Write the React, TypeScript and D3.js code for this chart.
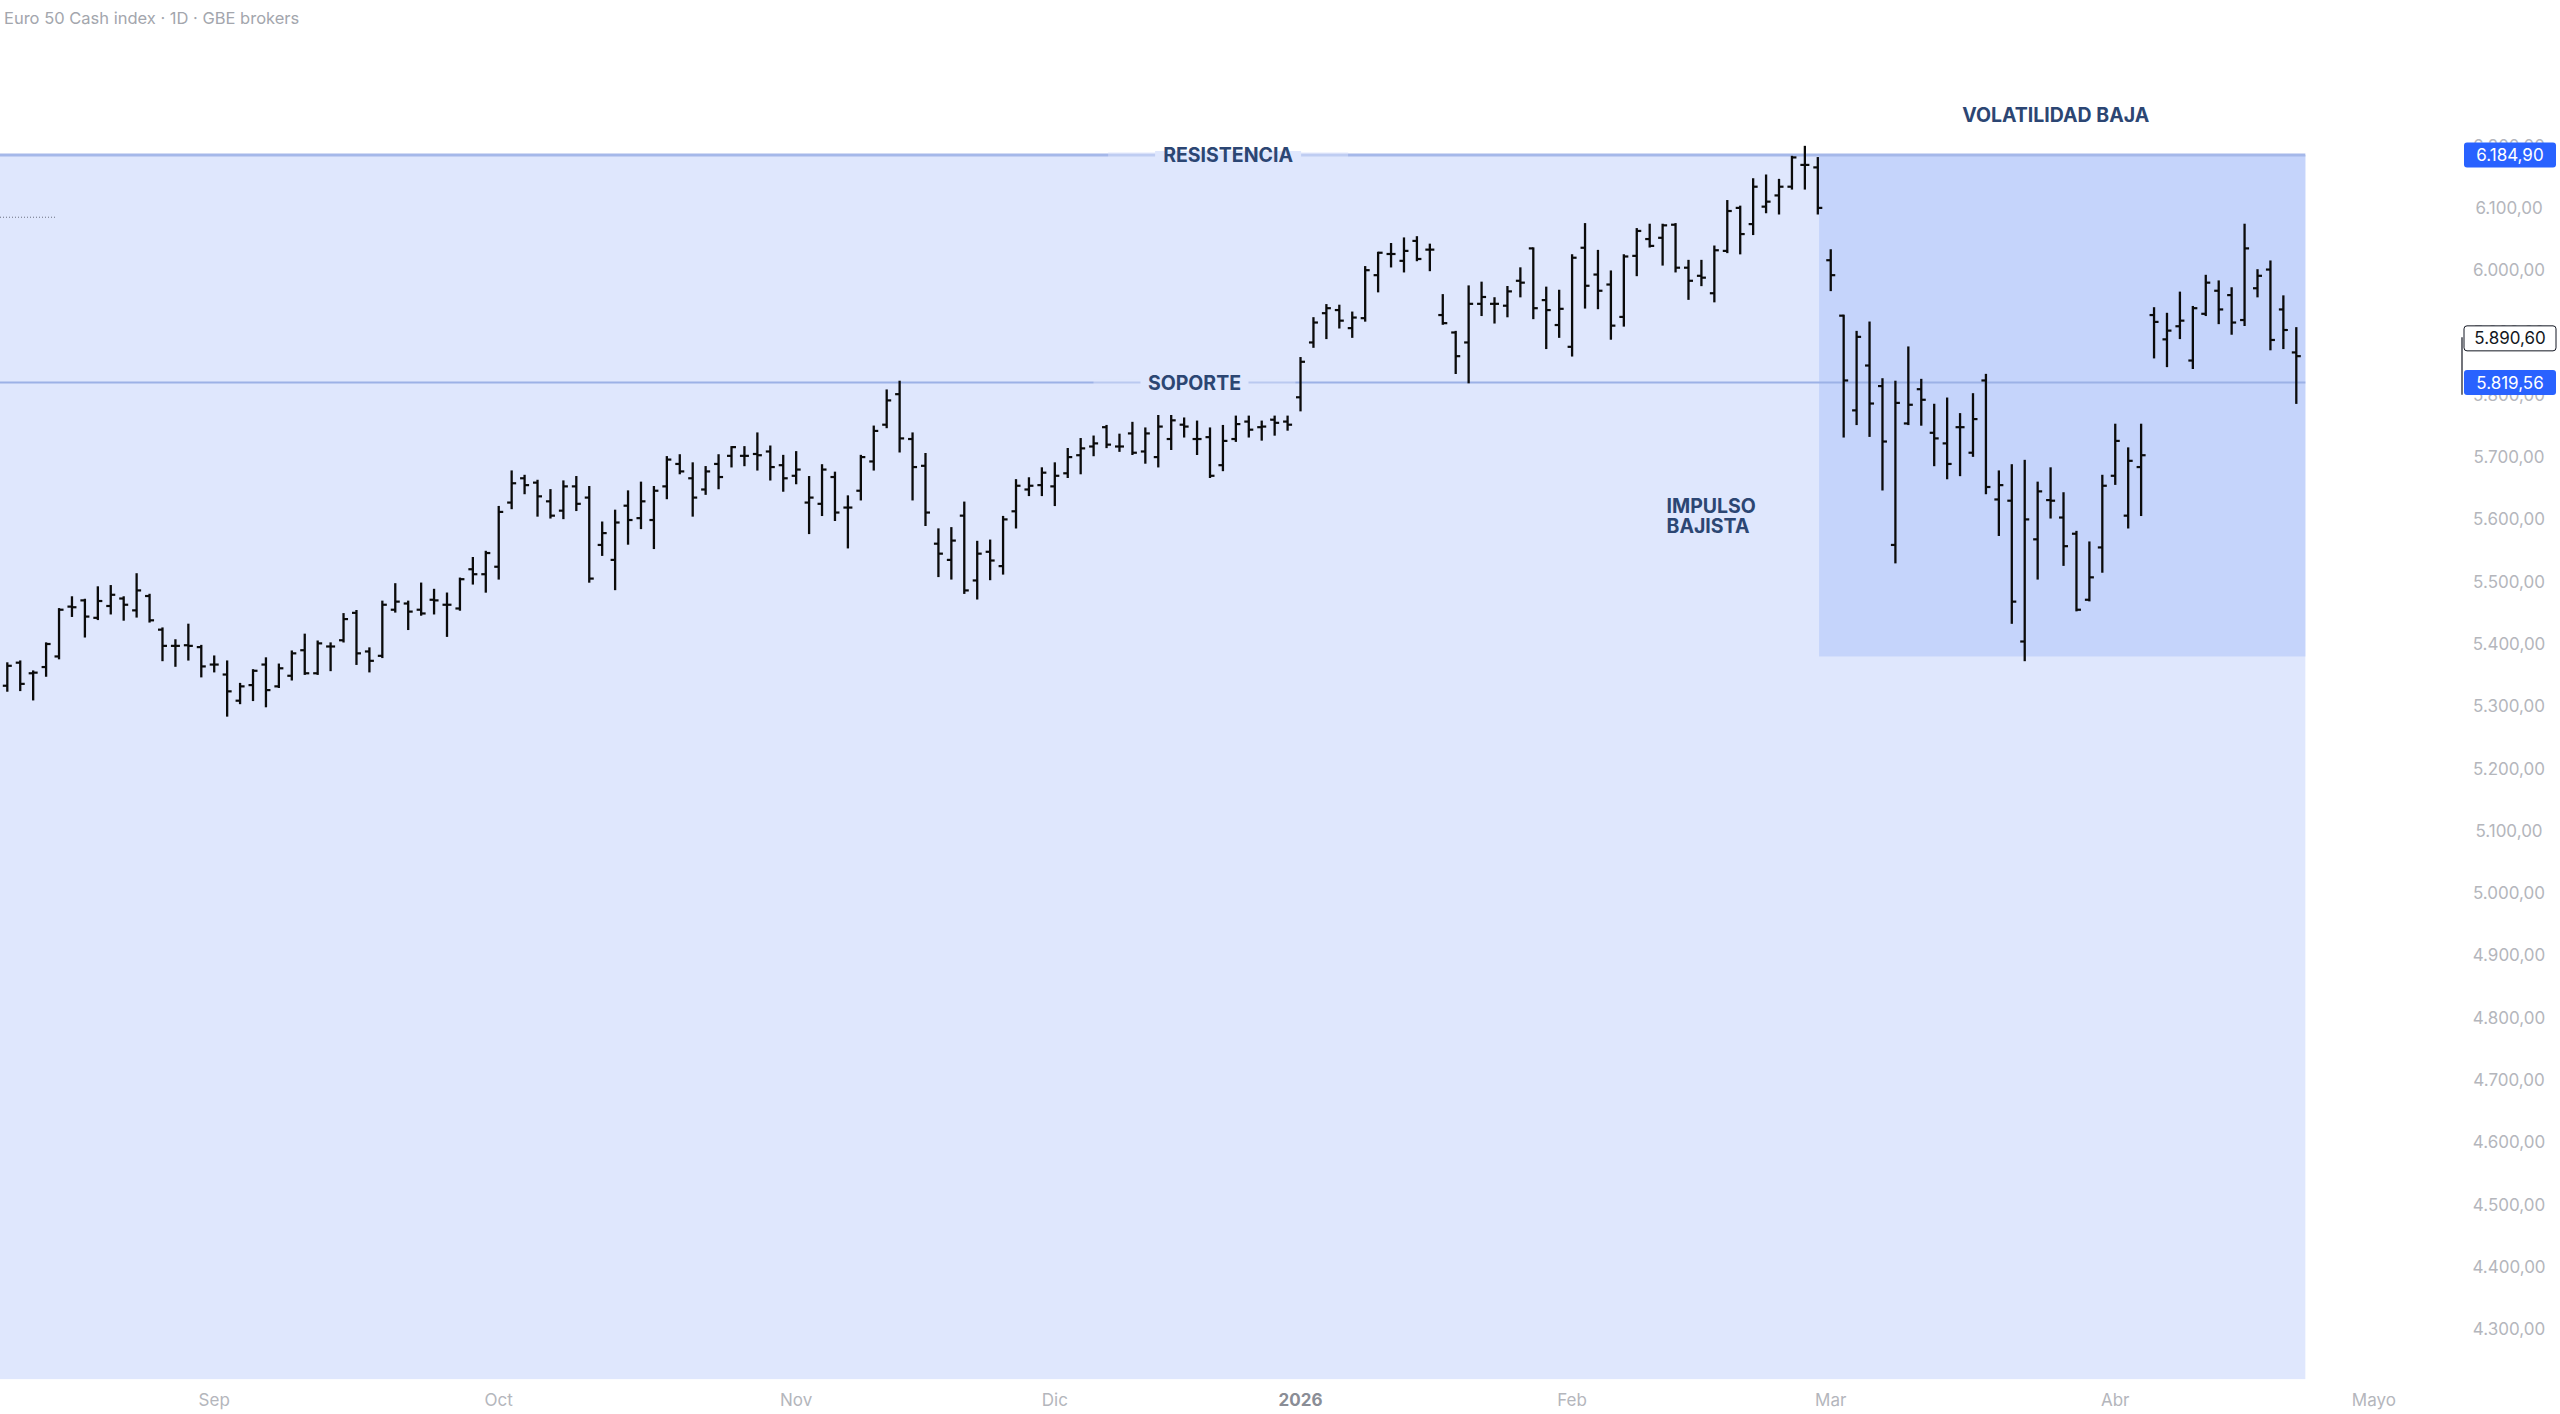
import * as d3 from "d3";

// OHLC bars, first one is index -16 (Sep 1 = 0)
const FIRST_INDEX = -16;

const opens = [
  5333, 5370, 5353, 5363, 5380, 5460, 5470, 5442, 5461, 5473, 5454, 5477, 5423, 5397, 5398, 5395, 5367, 5351, 5309, 5334,
  5367, 5332, 5349, 5390, 5353, 5396, 5406, 5450, 5388, 5381, 5455, 5465, 5455, 5471, 5463, 5457, 5520, 5512, 5524, 5627,
  5666, 5659, 5629, 5614, 5653, 5635, 5559, 5535, 5622, 5602, 5599, 5653, 5689, 5666, 5648, 5689, 5702, 5702, 5705, 5709,
  5687, 5670, 5627, 5625, 5668, 5619, 5646, 5693, 5752, 5801, 5729, 5686, 5561, 5535, 5606, 5502, 5548, 5525, 5613, 5648,
  5655, 5653, 5674, 5703, 5717, 5748, 5717, 5738, 5709, 5700, 5729, 5752, 5729, 5732, 5687, 5729, 5757, 5748, 5760, 5757,
  5796, 5884, 5931, 5936, 5907, 5923, 5992, 6026, 6015, 6047, 6033, 5928, 5900, 5884, 5946, 5946, 5943, 5983, 6035, 5952,
  5912, 5877, 6036, 5993, 5977, 5925, 6023, 6050, 6052, 6073, 6004, 5991, 5963, 6031, 6100, 6074, 6102, 6120, 6134, 6169,
  6165, 6016, 5927, 5775, 5847, 5814, 5559, 5754, 5809, 5739, 5722, 5748, 5707, 5823, 5632, 5630, 5404, 5568, 5631, 5603,
  5577, 5471, 5555, 5670, 5606, 5684, 5928, 5889, 5910, 5855, 5930, 5967, 5960, 5920, 5971, 6001, 5937, 5868,
];
const highs = [
  5369, 5372, 5356, 5401, 5456, 5475, 5471, 5491, 5493, 5475, 5512, 5479, 5425, 5406, 5431, 5397, 5380, 5372, 5336, 5358,
  5377, 5367, 5388, 5415, 5404, 5401, 5448, 5453, 5393, 5468, 5496, 5468, 5497, 5487, 5481, 5505, 5538, 5548, 5620, 5677,
  5670, 5662, 5647, 5661, 5668, 5652, 5595, 5614, 5645, 5659, 5652, 5700, 5703, 5690, 5684, 5703, 5716, 5716, 5738, 5717,
  5702, 5708, 5668, 5687, 5675, 5637, 5702, 5749, 5807, 5821, 5738, 5705, 5584, 5586, 5627, 5564, 5566, 5604, 5663, 5666,
  5682, 5690, 5713, 5729, 5733, 5750, 5736, 5755, 5746, 5766, 5766, 5762, 5757, 5746, 5750, 5765, 5765, 5757, 5765, 5765,
  5859, 5923, 5944, 5943, 5932, 6005, 6028, 6042, 6051, 6053, 6041, 5960, 5901, 5974, 5980, 5955, 5973, 6003, 6035, 5972,
  5967, 6024, 6074, 6031, 5998, 6024, 6066, 6073, 6073, 6074, 6015, 6015, 6038, 6111, 6102, 6146, 6152, 6145, 6182, 6198,
  6180, 6032, 5927, 5901, 5916, 5825, 5821, 5876, 5824, 5784, 5794, 5769, 5801, 5832, 5677, 5687, 5694, 5659, 5682, 5642,
  5580, 5563, 5670, 5752, 5714, 5752, 5939, 5930, 5964, 5941, 5991, 5982, 5971, 6073, 6000, 6014, 5958, 5907,
];
const lows = [
  5325, 5326, 5311, 5349, 5377, 5445, 5412, 5440, 5449, 5439, 5444, 5436, 5374, 5365, 5375, 5348, 5356, 5285, 5305, 5310,
  5300, 5331, 5343, 5352, 5352, 5358, 5404, 5368, 5356, 5379, 5452, 5424, 5447, 5449, 5413, 5455, 5497, 5484, 5505, 5618,
  5642, 5606, 5603, 5602, 5615, 5500, 5543, 5488, 5561, 5586, 5554, 5634, 5674, 5606, 5641, 5650, 5685, 5687, 5680, 5664,
  5646, 5658, 5578, 5607, 5599, 5555, 5632, 5680, 5748, 5709, 5632, 5591, 5509, 5505, 5482, 5473, 5504, 5513, 5587, 5639,
  5639, 5623, 5668, 5674, 5703, 5716, 5710, 5705, 5691, 5685, 5713, 5733, 5705, 5668, 5679, 5726, 5733, 5728, 5736, 5744,
  5775, 5877, 5891, 5908, 5893, 5919, 5966, 6006, 5998, 6016, 6000, 5914, 5835, 5820, 5928, 5916, 5926, 5958, 5923, 5875,
  5893, 5863, 5940, 5939, 5890, 5911, 5992, 6038, 6009, 5998, 5954, 5976, 5950, 6029, 6027, 6058, 6093, 6091, 6131, 6131,
  6091, 5968, 5733, 5753, 5734, 5648, 5531, 5753, 5752, 5687, 5666, 5671, 5702, 5642, 5575, 5434, 5374, 5505, 5603, 5527,
  5454, 5470, 5516, 5657, 5587, 5607, 5860, 5846, 5891, 5843, 5928, 5915, 5898, 5912, 5958, 5873, 5875, 5787,
];
const closes = [
  5365, 5336, 5354, 5400, 5455, 5459, 5444, 5469, 5479, 5463, 5486, 5438, 5397, 5397, 5397, 5364, 5367, 5324, 5332, 5357,
  5326, 5361, 5385, 5353, 5401, 5396, 5440, 5385, 5373, 5463, 5468, 5452, 5449, 5470, 5463, 5504, 5512, 5546, 5612, 5658,
  5655, 5637, 5606, 5653, 5625, 5505, 5578, 5595, 5599, 5629, 5646, 5696, 5677, 5635, 5677, 5668, 5716, 5702, 5703, 5684,
  5666, 5680, 5635, 5680, 5611, 5619, 5700, 5742, 5791, 5730, 5684, 5611, 5545, 5566, 5486, 5545, 5534, 5600, 5654, 5654,
  5675, 5670, 5700, 5714, 5722, 5720, 5717, 5707, 5738, 5749, 5759, 5749, 5729, 5670, 5726, 5753, 5744, 5749, 5755, 5752,
  5853, 5916, 5939, 5919, 5924, 6000, 6028, 6026, 6031, 6018, 6033, 5915, 5862, 5946, 5957, 5946, 5966, 5980, 5939, 5936,
  5938, 6020, 5975, 5967, 5911, 6022, 6063, 6039, 6072, 6004, 5983, 5988, 6032, 6095, 6058, 6134, 6110, 6134, 6181, 6169,
  6100, 5992, 5823, 5893, 5786, 5725, 5787, 5784, 5792, 5730, 5689, 5748, 5761, 5652, 5655, 5468, 5600, 5645, 5630, 5557,
  5455, 5507, 5654, 5726, 5694, 5703, 5917, 5903, 5919, 5939, 5980, 5937, 5916, 6035, 5991, 5888, 5904, 5862,
];

// x axis (bar index of the first trading day of each month)
const monthLabels = ["Sep", "Oct", "Nov", "Dic", "2026", "Feb", "Mar", "Abr", "Mayo"];
const monthIndex = [0, 22, 45, 65, 84, 105, 125, 147, 167];

// y axis
const priceTicks = [
  4300, 4400, 4500, 4600, 4700, 4800, 4900, 5000, 5100, 5200,
  5300, 5400, 5500, 5600, 5700, 5800, 5900, 6000, 6100, 6200,
];

// drawings
const RESISTANCE = 6184.9;
const SUPPORT = 5819.56;
const LAST_PRICE = 5890.6;
const BRACKET_LOW = 5800;
const zoneLight = { x0: -17, x1: 161.7, top: RESISTANCE, bottom: 4220 };
const zoneDark = { x0: 124.1, x1: 161.7, top: RESISTANCE, bottom: 5380 };
const dottedLine = { x0: -17, x1: -12.3, price: 6085 };
const resistLabel = { text: "RESISTENCIA", idx: 78.4 };
const supportLabel = { text: "SOPORTE", idx: 75.8 };
const volLabel = { text: "VOLATILIDAD BAJA", idx: 142.4, price: 6249 };
const impulseLabel = { lines: ["IMPULSO", "BAJISTA"], idx: 112.3, prices: [5621, 5589] };

const W = 2560;
const H = 1414;
const FONT = "Inter, 'Liberation Sans', sans-serif";
const LABEL_BLUE = "#2c4673";
const LABEL_SIZE = 19.5;

const x = d3.scaleLinear().domain([FIRST_INDEX, 161]).range([7.3, 2296.3]);
const y = d3.scaleLinear().domain([4300, RESISTANCE]).range([1329.3, 155]);

const locale = d3.formatLocale({ decimal: ",", thousands: ".", grouping: [3], currency: ["", ""] });
const fmt = locale.format(",.2f");

// text sitting on a horizontal line, with a gap cut out of the line
function LineLabel({ text, cx, cy, width }: { text: string; cx: number; cy: number; width: number }) {
  return (
    <g>
      <rect x={cx - width / 2 - 55} y={cy - 3} width={width + 110} height={6} fill="#dfe7fd" opacity={0.45} />
      <rect x={cx - width / 2 - 8} y={cy - 4} width={width + 16} height={8} fill="#dfe7fd" />
      <text x={cx} y={cy} textAnchor="middle" dominantBaseline="central" fill={LABEL_BLUE}
        style={{ fontFamily: FONT, fontWeight: 700, fontSize: LABEL_SIZE }}>{text}</text>
    </g>
  );
}

export default function App() {
  const plotRight = x(zoneLight.x1);
  const lightLeft = Math.max(0, x(zoneLight.x0));
  return (
    <>
      <style>{`body{margin:0;background:#fff}`}</style>
      <svg width={W} height={H} style={{ display: "block" }}>
        <rect width={W} height={H} fill="#ffffff" />

        {/* zones */}
        <rect x={lightLeft} y={y(zoneLight.top)} width={x(zoneLight.x1) - lightLeft}
          height={y(zoneLight.bottom) - y(zoneLight.top)} fill="#dfe7fd" />
        <rect x={x(zoneDark.x0)} y={y(zoneDark.top)} width={x(zoneDark.x1) - x(zoneDark.x0)}
          height={y(zoneDark.bottom) - y(zoneDark.top)} fill="#c5d4fb" />

        {/* resistance / support */}
        <line x1={0} x2={plotRight} y1={y(RESISTANCE)} y2={y(RESISTANCE)} stroke="#a5b8e9" strokeWidth={3} />
        <line x1={0} x2={plotRight} y1={y(SUPPORT)} y2={y(SUPPORT)} stroke="#9cb1e6" strokeWidth={2} />
        <line x1={Math.max(0, x(dottedLine.x0))} x2={x(dottedLine.x1)} y1={y(dottedLine.price)} y2={y(dottedLine.price)}
          stroke="#6b7080" strokeWidth={1} strokeDasharray="1,2" />

        <LineLabel text={resistLabel.text} cx={x(resistLabel.idx)} cy={y(RESISTANCE)} width={130} />
        <LineLabel text={supportLabel.text} cx={x(supportLabel.idx)} cy={y(SUPPORT)} width={92} />

        {/* OHLC bars */}
        <g stroke="#0b0b0b">
          {opens.map((o, k) => {
            const cx = x(k + FIRST_INDEX);
            return (
              <g key={k}>
                <line x1={cx} x2={cx} y1={y(highs[k]) - 1} y2={y(lows[k]) + 1} strokeWidth={2.3} />
                <line x1={cx - 4.5} x2={cx} y1={y(o)} y2={y(o)} strokeWidth={2.2} />
                <line x1={cx} x2={cx + 4.5} y1={y(closes[k])} y2={y(closes[k])} strokeWidth={2.2} />
              </g>
            );
          })}
        </g>

        {/* annotations */}
        <text x={x(volLabel.idx)} y={y(volLabel.price)} textAnchor="middle" dominantBaseline="central" fill={LABEL_BLUE}
          style={{ fontFamily: FONT, fontWeight: 700, fontSize: LABEL_SIZE }}>{volLabel.text}</text>
        {impulseLabel.lines.map((t, k) => (
          <text key={t} x={x(impulseLabel.idx)} y={y(impulseLabel.prices[k])} dominantBaseline="central" fill={LABEL_BLUE}
            style={{ fontFamily: FONT, fontWeight: 700, fontSize: LABEL_SIZE }}>{t}</text>
        ))}

        {/* title */}
        <text x={4} y={24} fill="#a3a6ad" style={{ fontFamily: FONT, fontSize: 16.5 }}>
          Euro 50 Cash index · 1D · GBE brokers
        </text>

        {/* price axis */}
        {priceTicks.map((p) => (
          <text key={p} x={2509} y={y(p)} textAnchor="middle" dominantBaseline="central" fill="#b4b6bc"
            style={{ fontFamily: FONT, fontSize: 17 }}>{fmt(p)}</text>
        ))}

        {/* price tags */}
        <line x1={2462} x2={2462} y1={y(LAST_PRICE) - 1} y2={y(BRACKET_LOW)} stroke="#131722" strokeWidth={1.2} />
        {[
          { p: RESISTANCE, fill: "#2962ff", color: "#fff", stroke: "none" },
          { p: SUPPORT, fill: "#2962ff", color: "#fff", stroke: "none" },
          { p: LAST_PRICE, fill: "#fff", color: "#131722", stroke: "#131722" },
        ].map((t) => (
          <g key={t.p}>
            <rect x={2464} y={y(t.p) - 12.5} width={92} height={25} rx={3} fill={t.fill} stroke={t.stroke} strokeWidth={1} />
            <text x={2510} y={y(t.p)} textAnchor="middle" dominantBaseline="central" fill={t.color}
              style={{ fontFamily: FONT, fontSize: 17 }}>{fmt(t.p)}</text>
          </g>
        ))}

        {/* time axis */}
        {monthLabels.map((m, k) => (
          <text key={m} x={x(monthIndex[k])} y={1400} textAnchor="middle" dominantBaseline="central"
            fill={m === "2026" ? "#8a8d96" : "#b4b6bc"}
            style={{ fontFamily: FONT, fontSize: 17, fontWeight: m === "2026" ? 700 : 400 }}>{m}</text>
        ))}
      </svg>
    </>
  );
}
